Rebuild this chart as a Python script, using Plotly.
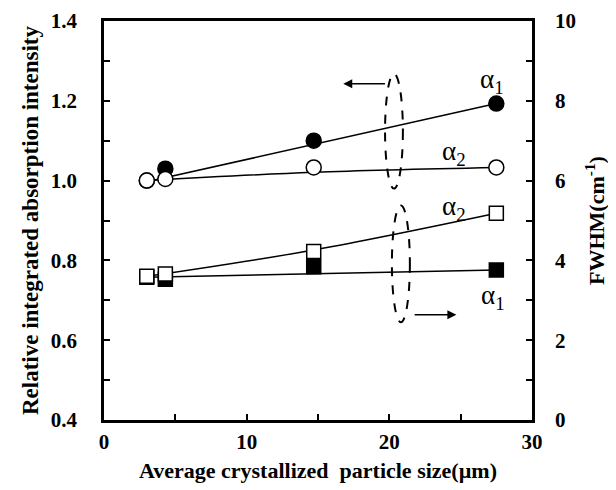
import plotly.graph_objects as go

# Data
size_x = [3.0, 4.3, 14.7, 27.5]
int_a1 = [1.0, 1.03, 1.10, 1.193]      # filled circles (left axis)
int_a2 = [1.0, 1.004, 1.033, 1.033]    # open circles (left axis)
fwhm_a1 = [3.58, 3.53, 3.84, 3.76]     # filled squares (right axis)
fwhm_a2 = [3.60, 3.66, 4.22, 5.18]     # open squares (right axis)

# Trend lines
tr_int_a1_x = [3.0, 27.5]
tr_int_a1_y = [0.997, 1.193]
tr_int_a2_x = [3.0, 14.7, 27.5]
tr_int_a2_y = [1.0, 1.021, 1.033]
tr_fw_a1_x = [3.0, 27.5]
tr_fw_a1_y = [3.58, 3.76]
tr_fw_a2_x = [3.0, 14.7, 27.5]
tr_fw_a2_y = [3.60, 4.26, 5.18]

FONT = "Liberation Serif"
fig = go.Figure()

line_style = dict(color="black", width=1.5)
for tx, ty, ax in [(tr_int_a1_x, tr_int_a1_y, "y"), (tr_int_a2_x, tr_int_a2_y, "y"),
                   (tr_fw_a1_x, tr_fw_a1_y, "y2"), (tr_fw_a2_x, tr_fw_a2_y, "y2")]:
    fig.add_trace(go.Scatter(x=tx, y=ty, mode="lines", line=dict(shape="spline", **line_style),
                             yaxis=ax, showlegend=False, hoverinfo="skip"))

mk_line = dict(color="black", width=1.5)
fig.add_trace(go.Scatter(x=size_x, y=int_a1, mode="markers", yaxis="y", showlegend=False,
                         marker=dict(symbol="circle", size=15, color="black", line=mk_line)))
fig.add_trace(go.Scatter(x=size_x, y=int_a2, mode="markers", yaxis="y", showlegend=False,
                         marker=dict(symbol="circle", size=15, color="white", line=mk_line)))
fig.add_trace(go.Scatter(x=size_x, y=fwhm_a1, mode="markers", yaxis="y2", showlegend=False,
                         marker=dict(symbol="square", size=14, color="black", line=mk_line)))
fig.add_trace(go.Scatter(x=size_x, y=fwhm_a2, mode="markers", yaxis="y2", showlegend=False,
                         marker=dict(symbol="square", size=14, color="white", line=mk_line)))

tickfont = dict(family=FONT, size=21, color="black", weight="bold")
xtitlefont = dict(family=FONT, size=22, color="black", weight="bold")
ytitlefont = dict(family=FONT, size=23, color="black", weight="bold")
y2titlefont = dict(family=FONT, size=22, color="black", weight="bold")

# page has an 8px body margin, so the figure is sized to the visible area
fig.update_layout(
    width=608, height=482,
    margin=dict(l=96, r=84, t=13, b=70),
    paper_bgcolor="white", plot_bgcolor="white",
    xaxis=dict(range=[0, 30], dtick=10, showgrid=False, zeroline=False, automargin=False,
               showline=True, linecolor="black", linewidth=2.5, mirror=True,
               ticks="inside", ticklen=6, tickwidth=2, tickcolor="black",
               minor=dict(dtick=5, ticks="inside", ticklen=6, tickwidth=2, tickcolor="black"),
               tickfont=tickfont, ticklabelstandoff=1,
               title=dict(text="Average crystallized  particle size(µm)", font=xtitlefont, standoff=10)),
    yaxis=dict(range=[0.4, 1.4], dtick=0.2, tickformat=".1f", showgrid=False, zeroline=False,
               automargin=False,
               showline=True, linecolor="black", linewidth=2.5, mirror=True,
               ticks="inside", ticklen=6, tickwidth=2, tickcolor="black",
               minor=dict(dtick=0.1, ticks="inside", ticklen=6, tickwidth=2, tickcolor="black"),
               tickfont=tickfont, ticklabelstandoff=20,
               title=dict(text="Relative integrated absorption intensity", font=ytitlefont, standoff=6)),
    yaxis2=dict(range=[0, 10], dtick=2, overlaying="y", side="right", showgrid=False, zeroline=False,
                automargin=False,
                showline=True, linecolor="black", linewidth=2.5,
                ticks="inside", ticklen=6, tickwidth=2, tickcolor="black",
                minor=dict(dtick=1, ticks="inside", ticklen=6, tickwidth=2, tickcolor="black"),
                tickfont=tickfont, ticklabelstandoff=16,
                title=dict(text="FWHM(cm<sup>-1</sup>)", font=y2titlefont, standoff=14)),
)

# Dashed ellipses
fig.add_shape(type="circle", xref="x", yref="y", x0=19.7, x1=20.95, y0=0.98, y1=1.2675,
              line=dict(color="black", width=2, dash="dash"))
fig.add_shape(type="circle", xref="x", yref="y", x0=20.18, x1=21.44, y0=0.645, y1=0.9375,
              line=dict(color="black", width=2, dash="dash"))

# Arrows
fig.add_annotation(x=16.77, y=1.243, ax=19.8, ay=1.243, xref="x", yref="y", axref="x", ayref="y",
                   text="", showarrow=True, arrowhead=2, arrowsize=1.2, arrowwidth=1.5, arrowcolor="black")
fig.add_annotation(x=24.7, y=0.664, ax=21.67, ay=0.664, xref="x", yref="y", axref="x", ayref="y",
                   text="", showarrow=True, arrowhead=2, arrowsize=1.2, arrowwidth=1.5, arrowcolor="black")

# Labels
lab_font = dict(family=FONT, size=27, color="black")
for lx, ly, txt in [(27.2, 1.25, "α<sub>1</sub>"), (24.5, 1.07, "α<sub>2</sub>"),
                    (24.5, 0.9325, "α<sub>2</sub>"), (27.3, 0.7075, "α<sub>1</sub>")]:
    fig.add_annotation(x=lx, y=ly, xref="x", yref="y", text=txt, showarrow=False, font=lab_font)

fig.write_html("out.html")
